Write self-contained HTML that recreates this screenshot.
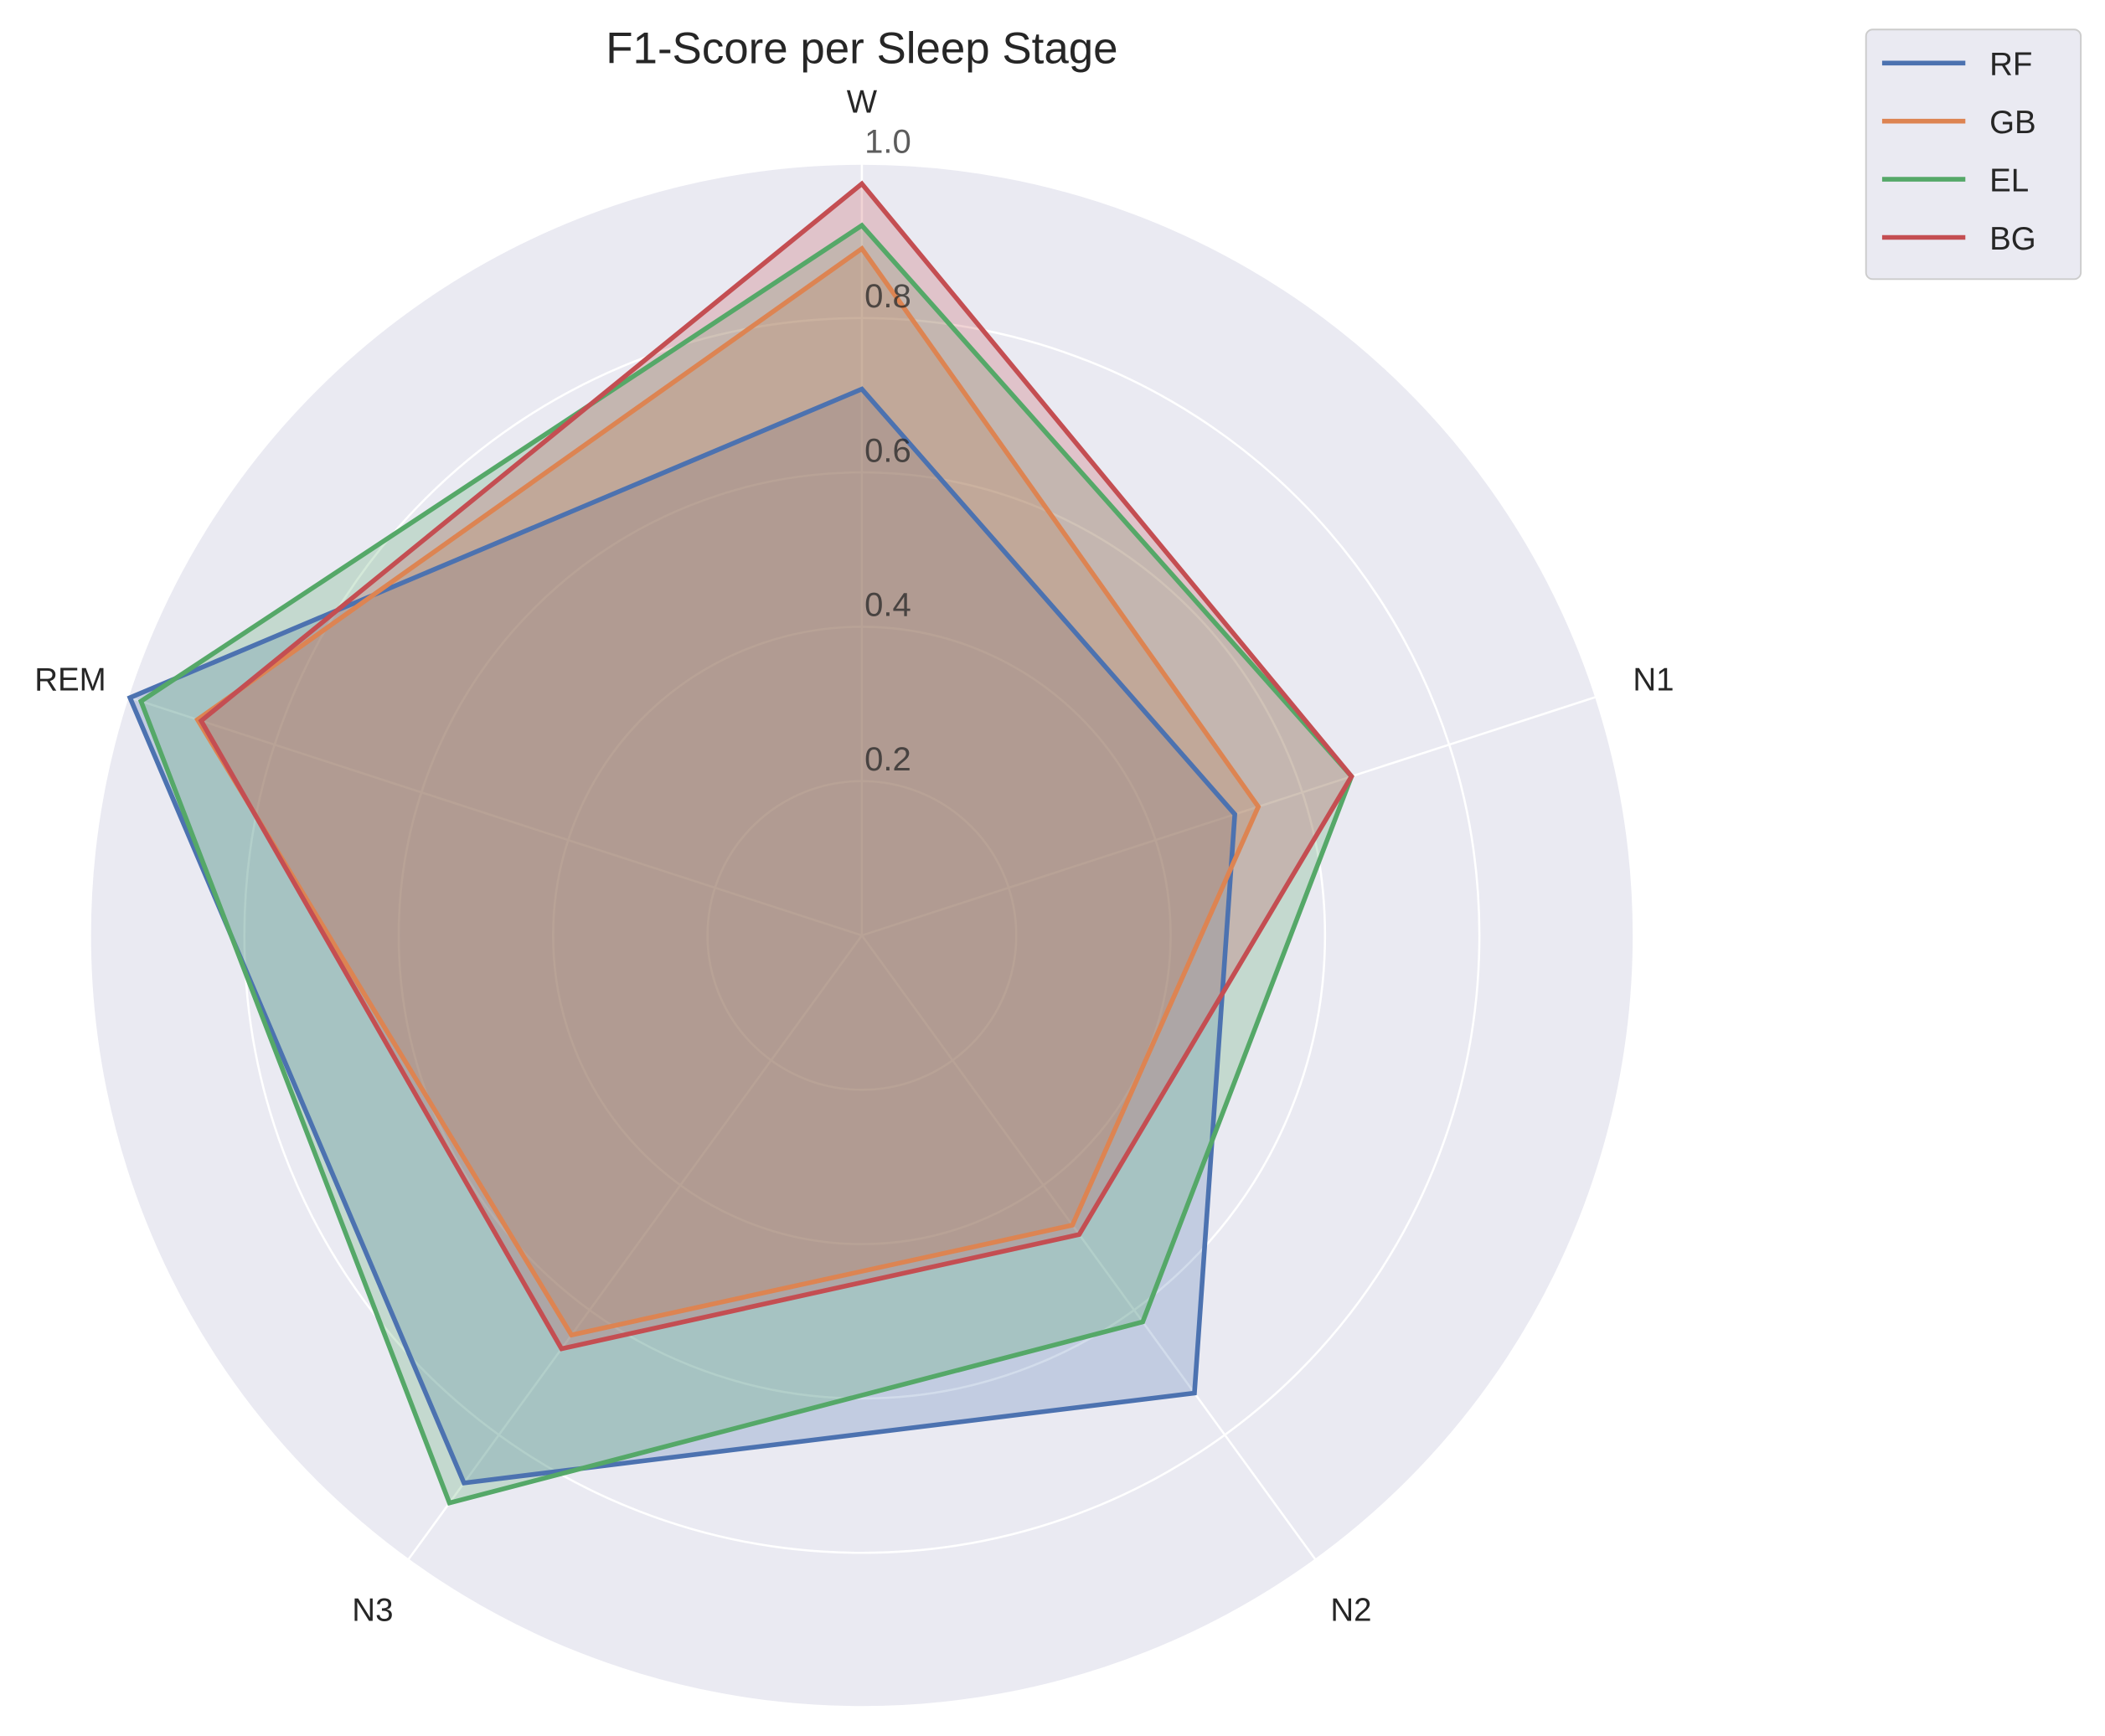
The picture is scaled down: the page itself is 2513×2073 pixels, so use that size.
<!DOCTYPE html>
<html>
<head>
<meta charset="utf-8">
<style>
html,body{margin:0;padding:0;background:#fff;}
svg{display:block;font-family:"Liberation Sans","DejaVu Sans",sans-serif;}
</style>
</head>
<body>
<svg id="chart" width="2513" height="2073" viewBox="0 0 1568 1293.5">
<g id="grid"></g>
<g id="series"></g>
<g id="labels"></g>
<text x="642" y="47" font-size="33" text-anchor="middle" fill="#262626">F1-Score per Sleep Stage</text>
<g id="legend"></g>
</svg>
<script>
const categories = ["W","N1","N2","N3","REM"];
const seriesNames = ["RF","GB","EL","BG"];
const rfValues = [0.708, 0.508, 0.733, 0.877, 0.997];
const gbValues = [0.89, 0.54, 0.464, 0.64, 0.905];
const elValues = [0.92, 0.667, 0.619, 0.909, 0.982];
const bgValues = [0.974, 0.667, 0.479, 0.662, 0.90];
const tickValues = [0.2, 0.4, 0.6, 0.8, 1.0];
const tickLabels = ["0.2","0.4","0.6","0.8","1.0"];

const NS="http://www.w3.org/2000/svg";
const cx=642, cy=697, R=575, rmax=1.0;
const colors=["#4c72b0","#dd8452","#55a868","#c44e52"];
const allValues=[rfValues,gbValues,elValues,bgValues];
function rScale(v){return v/rmax*R;}
function angle(i){return Math.PI/2 - i*2*Math.PI/categories.length;}
function pt(i,v){const a=angle(i),r=rScale(v);return [cx+r*Math.cos(a), cy-r*Math.sin(a)];}
function mk(tag,attrs,parent){const e=document.createElementNS(NS,tag);for(const k in attrs)e.setAttribute(k,attrs[k]);parent.appendChild(e);return e;}

const grid=document.getElementById('grid');
const bg=mk('circle',{cx:cx,cy:cy,r:R,fill:'#eaeaf2'},grid);


tickValues.forEach((t,k)=>{
  const c=mk('circle',{cx:cx,cy:cy,r:rScale(t),fill:'none',stroke:'#fff','stroke-width':1.6},grid);
  
  
});
categories.forEach((c,i)=>{
  const p=pt(i,rmax);
  const l=mk('line',{x1:cx,y1:cy,x2:p[0],y2:p[1],stroke:'#fff','stroke-width':1.6},grid);
  
  
});

const ser=document.getElementById('series');
allValues.forEach((vals,s)=>{
  const pts=vals.map((v,i)=>pt(i,v).join(',')).join(' ');
  const f=mk('polygon',{points:pts,fill:colors[s],'fill-opacity':0.25,stroke:'none'},ser);
  
  
});
allValues.forEach((vals,s)=>{
  const pts=vals.map((v,i)=>pt(i,v).join(',')).join(' ');
  const l=mk('polygon',{points:pts,fill:'none',stroke:colors[s],'stroke-width':3.5,'stroke-linejoin':'miter'},ser);
  
  
});

const lab=document.getElementById('labels');
tickValues.forEach((t,k)=>{
  const tx=mk('text',{x:cx+2,y:cy-rScale(t)-8,'font-size':25,fill:'#262626','fill-opacity':0.75},lab);
  tx.textContent=tickLabels[k];
  
  
});
categories.forEach((c,i)=>{
  const a=angle(i);const r=R+45;
  let x=cx+r*Math.cos(a), y=cy-r*Math.sin(a)+9;
  if(i===0) y=84;
  const tx=mk('text',{x:x,y:y,'font-size':24,fill:'#262626','text-anchor':'middle'},lab);
  tx.textContent=c;
  
  
});

const lg=document.getElementById('legend');
const box=mk('rect',{x:1390,y:22,width:160,height:186,rx:5,fill:'#eaeaf2',stroke:'#cccccc','stroke-width':1.2},lg);


seriesNames.forEach((n,s)=>{
  const y=47+s*43.3;
  const l=mk('line',{x1:1402,y1:y,x2:1464,y2:y,stroke:colors[s],'stroke-width':3.5},lg);
  
  
  const t=mk('text',{x:1482,y:y+9,'font-size':24,fill:'#262626'},lg);
  t.textContent=n;
  
  
});
</script>
</body>
</html>
